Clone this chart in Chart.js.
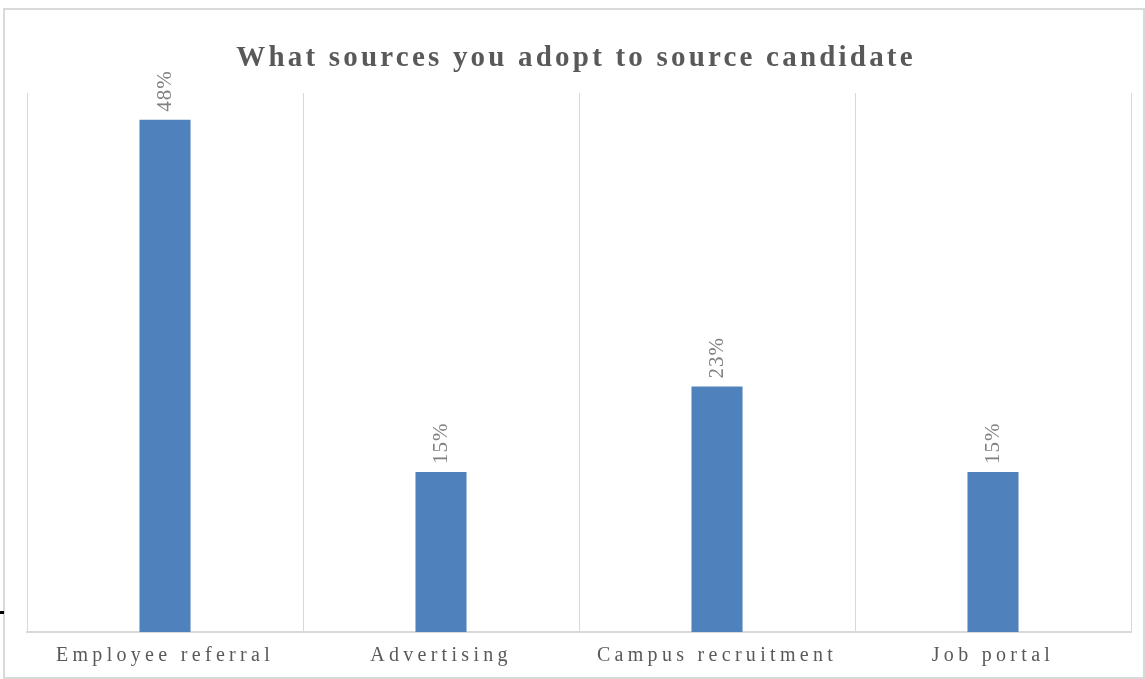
<!DOCTYPE html>
<html>
<head>
<meta charset="utf-8">
<title>What sources you adopt to source candidate</title>
<script src="https://cdn.jsdelivr.net/npm/chart.js@4.4.1/dist/chart.umd.min.js"></script>
<style>
  html, body { margin: 0; padding: 0; background: #ffffff; overflow: hidden; }
  #frame { position: absolute; left: 3px; top: 8px; width: 1138px; height: 667px; border: 2px solid #d9d9d9; }
  #mark { position: absolute; left: 0; top: 611px; width: 4px; height: 3px; background: #000; }
  #wrap { position: absolute; left: 0; top: 0; width: 1145px; height: 679px; }
</style>
</head>
<body>
<div id="frame"></div>
<div id="mark"></div>
<div id="wrap"><canvas id="chart"></canvas></div>
<script>
// Chart content
const chartTitle = 'What sources you adopt to source candidate';
const categories = ['Employee referral', 'Advertising', 'Campus recruitment', 'Job portal'];
const shares = [48, 15, 23, 15];          // percent of respondents
const valueAxisMax = 50.5;                // hidden value axis upper bound

const SERIF = '"Liberation Serif", "DejaVu Serif", serif';

// Letter-spaced category labels: spacing is set on the context before the axes are drawn
const spacedTicks = {
  id: 'spacedTicks',
  beforeDraw(chart) {
    chart.ctx.letterSpacing = '4.3px';
  }
};

// Rotated value labels above every bar
const valueLabels = {
  id: 'valueLabels',
  afterDatasetsDraw(chart) {
    const ctx = chart.ctx;
    const meta = chart.getDatasetMeta(0);
    ctx.save();
    ctx.letterSpacing = '1px';
    ctx.font = '21px ' + SERIF;
    ctx.fillStyle = '#808080';
    ctx.textAlign = 'left';
    ctx.textBaseline = 'middle';
    meta.data.forEach((bar, i) => {
      ctx.save();
      ctx.translate(bar.x, bar.y - 8);
      ctx.rotate(-Math.PI / 2);
      ctx.fillText(shares[i] + '%', 0, 0);
      ctx.restore();
    });
    ctx.restore();
  }
};

// Letter-spaced bold heading
const spacedTitle = {
  id: 'spacedTitle',
  afterDraw(chart) {
    const ctx = chart.ctx;
    ctx.save();
    ctx.letterSpacing = '3.2px';
    ctx.font = 'bold 29px ' + SERIF;
    ctx.fillStyle = '#595959';
    ctx.textAlign = 'center';
    ctx.textBaseline = 'alphabetic';
    ctx.fillText(chartTitle, 576, 66);
    ctx.restore();
  }
};

new Chart(document.getElementById('chart'), {
  type: 'bar',
  data: {
    labels: categories,
    datasets: [{
      data: shares,
      backgroundColor: '#4f81bd',
      borderWidth: 0,
      categoryPercentage: 1,
      barPercentage: 0.185
    }]
  },
  options: {
    responsive: true,
    maintainAspectRatio: false,
    animation: false,
    devicePixelRatio: 1,
    layout: { padding: { top: 93, left: 27, right: 14, bottom: 0 } },
    plugins: {
      legend: { display: false },
      title: { display: false },
      tooltip: { enabled: false }
    },
    scales: {
      x: {
        offset: true,
        grid: { display: true, color: '#d9d9d9', lineWidth: 1, drawTicks: false, offset: true },
        border: { display: true, color: '#d9d9d9', width: 2 },
        ticks: {
          color: '#595959',
          font: { family: SERIF, size: 20 },
          padding: 12,
          maxRotation: 0,
          autoSkip: false
        },
        afterFit(scale) { scale.height = 47; }
      },
      y: {
        display: false,
        min: 0,
        max: valueAxisMax
      }
    }
  },
  plugins: [spacedTicks, valueLabels, spacedTitle]
});
</script>
</body>
</html>
